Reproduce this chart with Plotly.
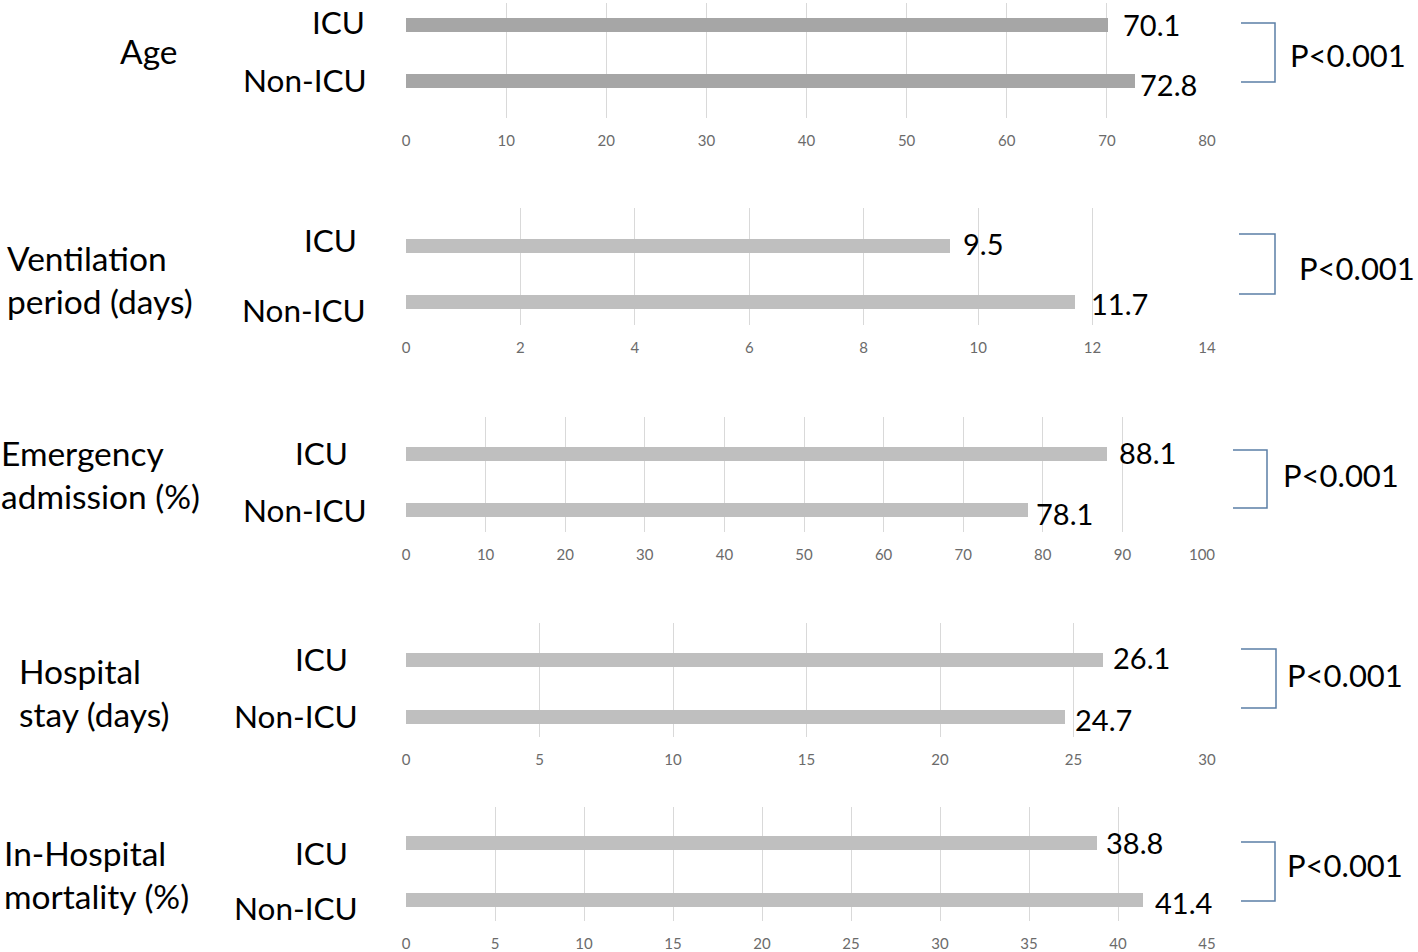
import plotly.graph_objects as go

# ---------------- data ----------------
panel_titles = ["Age", "Ventilation<br>period (days)", "Emergency<br>admission (%)",
                "Hospital<br>stay (days)", "In-Hospital<br>mortality (%)"]
group_labels = ["ICU", "Non-ICU"]
icu_values = [70.1, 9.5, 88.1, 26.1, 38.8]
non_icu_values = [72.8, 11.7, 78.1, 24.7, 41.4]
axis_max = [80, 14, 100, 30, 45]
axis_step = [10, 2, 10, 5, 5]
p_values = ["P<0.001", "P<0.001", "P<0.001", "P<0.001", "P<0.001"]

# ---------------- layout geometry (pixels) ----------------
W, H = 1418, 952
FONT = "Lato"
bar_colors = ["#a6a6a6", "#bfbfbf", "#bfbfbf", "#bfbfbf", "#bfbfbf"]
# plot area: left, right, grid top, grid bottom, ICU bar centre, Non-ICU bar centre
geom = [
    (406, 1207, 3, 118, 24.5, 81),
    (406, 1207, 208, 325, 246, 302),
    (406, 1202, 417, 532, 454, 510),
    (406, 1207, 623, 737, 659.5, 716.5),
    (406, 1207, 807, 921, 842.5, 899.5),
]
# value label offsets (dx, dy) in px for ICU / Non-ICU
val_off = [((13, 0), (3, 4)), ((11, -3), (14, 1)), ((10, -2), (6, 3)),
           ((8, -2), (8, 3)), ((7, 0), (10, 3))]
# group label right edge x and centre y
grp_pos = [((367, 22), (369, 80)), ((359, 240), (368, 310)), ((350, 453), (369, 510)),
           ((350, 659), (360, 716)), ((350, 853), (360, 908))]
# title line positions (x, y, anchor)
title_pos = [[(149, 51, "center")],
             [(5, 258, "left"), (5, 301, "left")],
             [(-1, 453, "left"), (-1, 496, "left")],
             [(17, 671, "left"), (17, 714, "left")],
             [(2, 853, "left"), (2, 896, "left")]]
bracket = [(1241, 1275, 23, 82), (1239, 1275, 234, 294), (1233, 1267, 450, 508),
           (1241, 1276, 649, 708), (1241, 1275, 842, 901)]
p_pos = [(1288, 55), (1297, 268), (1281, 475), (1285, 675), (1285, 865)]


def px(x):
    return x / W


def py(y):
    return 1 - y / H


fig = go.Figure()
annotations = []
shapes = []

for i in range(5):
    n = "" if i == 0 else str(i + 1)
    xl, xr, T, B, c1, c0 = geom[i]
    unit = c0 - c1
    ymax = 1 + (c1 - T) / unit
    ymin = -(B - c0) / unit
    fig.add_trace(go.Bar(
        x=[icu_values[i], non_icu_values[i]], y=[1, 0], orientation="h",
        width=14 / unit, marker=dict(color=bar_colors[i], line=dict(width=0)),
        xaxis="x" + n, yaxis="y" + n, showlegend=False, hoverinfo="x",
    ))
    fig.update_layout(**{
        "xaxis" + n: dict(
            domain=[px(xl), px(xr)], range=[0, axis_max[i]], dtick=axis_step[i], tick0=0,
            showgrid=True, gridcolor="#d9d9d9", gridwidth=1, zeroline=False,
            showline=False, ticks="", ticklabelstandoff=12, automargin=False,
            tickfont=dict(family=FONT, size=15, color="#6b6b6b"),
            anchor="y" + n, fixedrange=True,
        ),
        "yaxis" + n: dict(
            domain=[py(B), py(T)], range=[ymin, ymax], showgrid=False, zeroline=False,
            showticklabels=False, showline=False, anchor="x" + n, fixedrange=True,
            automargin=False,
        ),
    })
    # value labels
    for v, yv, (dx, dy) in zip([icu_values[i], non_icu_values[i]], [1, 0], val_off[i]):
        annotations.append(dict(
            x=v, y=yv, xref="x" + n, yref="y" + n, text=f"{v:.1f}", showarrow=False,
            xanchor="left", yanchor="middle", xshift=dx, yshift=-dy,
            font=dict(family=FONT, size=29, color="#000000"),
        ))
    # group labels
    for lab, (gx, gy) in zip(group_labels, grp_pos[i]):
        annotations.append(dict(
            x=px(gx), y=py(gy), xref="paper", yref="paper", text=lab, showarrow=False,
            xanchor="right", yanchor="middle",
            font=dict(family=FONT, size=31.5, color="#000000"),
        ))
    # panel titles
    for line, (tx, ty, anc) in zip(panel_titles[i].split("<br>"), title_pos[i]):
        annotations.append(dict(
            x=px(tx), y=py(ty), xref="paper", yref="paper", text=line, showarrow=False,
            xanchor=anc, yanchor="middle",
            font=dict(family=FONT, size=33.5, color="#000000"),
        ))
    # bracket
    bx0, bx1, by0, by1 = bracket[i]
    shapes.append(dict(
        type="path", xref="paper", yref="paper",
        path=f"M {px(bx0)} {py(by0)} L {px(bx1)} {py(by0)} L {px(bx1)} {py(by1)} L {px(bx0)} {py(by1)}",
        line=dict(color="#5b7fa6", width=1.5),
    ))
    annotations.append(dict(
        x=px(p_pos[i][0]), y=py(p_pos[i][1]), xref="paper", yref="paper",
        text=p_values[i], showarrow=False, xanchor="left", yanchor="middle",
        font=dict(family=FONT, size=31, color="#000000"),
    ))

fig.update_layout(
    width=W, height=H, margin=dict(l=0, r=0, t=0, b=0, pad=0, autoexpand=False),
    paper_bgcolor="white", plot_bgcolor="white",
    annotations=annotations, shapes=shapes, bargap=0,
)

fig.write_html(
    "out.html",
    config={"displayModeBar": False},
    post_script=(
        "document.body.style.margin='0';"
        "document.body.style.overflow='hidden';"
        "document.documentElement.style.overflow='hidden';"
    ),
)
